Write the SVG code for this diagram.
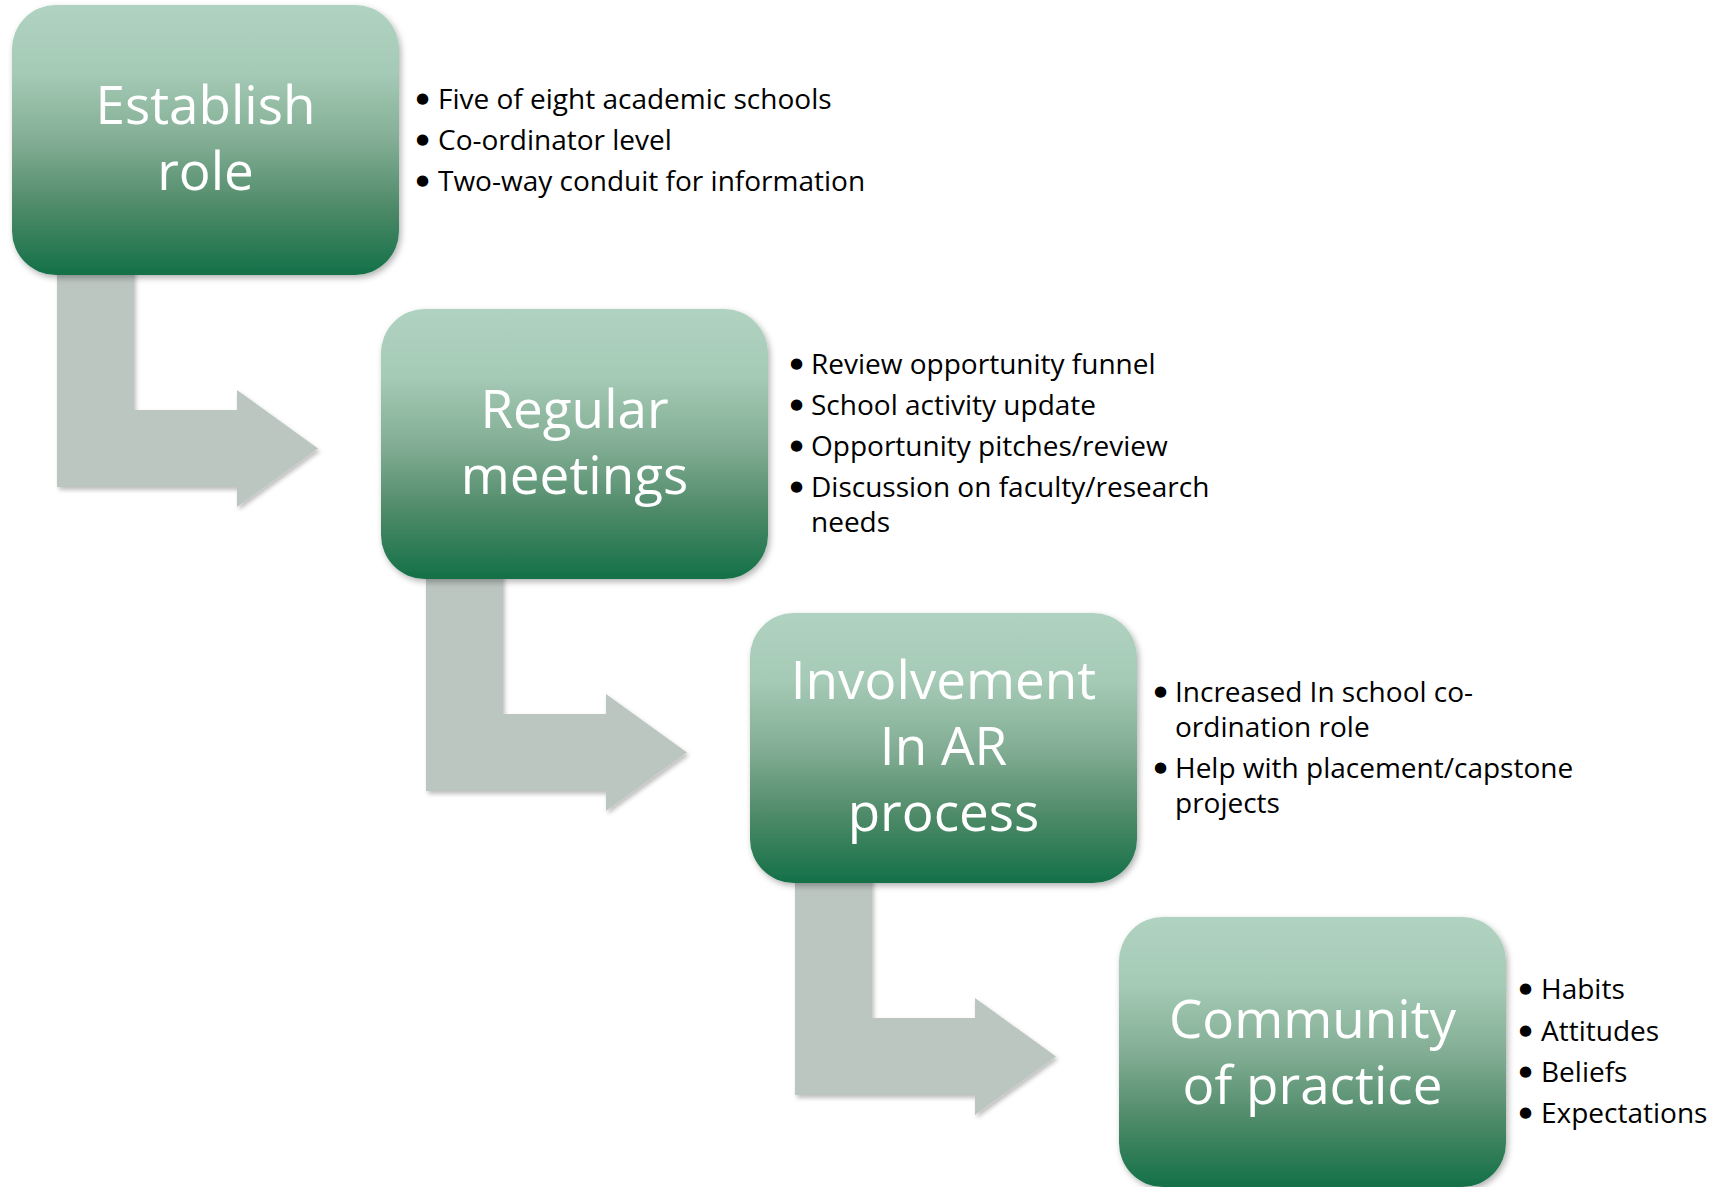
<svg xmlns="http://www.w3.org/2000/svg" width="1721" height="1187" viewBox="0 0 1721 1187">
<style>
.box{fill:url(#g);filter:url(#sh)}
.arr{fill:#BCC6C1;filter:url(#sh2)}
.lbl{font-family:"Open Sans","Noto Sans",sans-serif;font-size:53px;fill:#fff;text-anchor:middle}
.bul{font-family:"Open Sans","Noto Sans",sans-serif;font-size:28px;fill:#000}
.d{font-family:"DejaVu Sans",sans-serif;font-size:15px}
</style>
<defs>
<linearGradient id="g" x1="0" y1="0" x2="0" y2="1">
<stop offset="0" stop-color="#B0D3C1"/>
<stop offset="0.25" stop-color="#A5CAB5"/>
<stop offset="0.5" stop-color="#83AE95"/>
<stop offset="0.75" stop-color="#4E8A68"/>
<stop offset="1" stop-color="#137048"/>
</linearGradient>
<filter id="sh" x="-10%" y="-10%" width="125%" height="125%">
<feDropShadow dx="2" dy="3" stdDeviation="3" flood-color="#000" flood-opacity="0.3"/>
</filter>
<filter id="sh2" x="-10%" y="-10%" width="125%" height="125%">
<feDropShadow dx="2" dy="3" stdDeviation="2" flood-color="#000" flood-opacity="0.25"/>
</filter>
</defs>
<g id="connectors">
<path class="arr" d="M57,255 L134,255 L134,410 L237,410 L237,390 L318,448.5 L237,507 L237,487 L57,487 Z"/>
<path class="arr" d="M426,559 L503,559 L503,714 L606,714 L606,694 L687,752.5 L606,811 L606,791 L426,791 Z"/>
<path class="arr" d="M795,863 L872,863 L872,1018 L975,1018 L975,998 L1056,1056.5 L975,1115 L975,1095 L795,1095 Z"/>
</g>
<g id="node-establish-role">
<rect class="box" x="12" y="5" width="387" height="270" rx="44"/>
<text class="lbl" x="205.5" y="124">Establish</text>
<text class="lbl" x="205.5" y="190">role</text>
<text class="bul" x="416" y="109"><tspan class="d" dy="-6">●</tspan><tspan x="438" dy="6">Five of eight academic schools</tspan></text>
<text class="bul" x="416" y="150"><tspan class="d" dy="-6">●</tspan><tspan x="438" dy="6">Co-ordinator level</tspan></text>
<text class="bul" x="416" y="191"><tspan class="d" dy="-6">●</tspan><tspan x="438" dy="6">Two-way conduit for information</tspan></text>
</g>
<g id="node-regular-meetings">
<rect class="box" x="381" y="309" width="387" height="270" rx="44"/>
<text class="lbl" x="574.5" y="428">Regular</text>
<text class="lbl" x="574.5" y="494">meetings</text>
<text class="bul" x="790" y="374"><tspan class="d" dy="-6">●</tspan><tspan x="811" dy="6">Review opportunity funnel</tspan></text>
<text class="bul" x="790" y="415"><tspan class="d" dy="-6">●</tspan><tspan x="811" dy="6">School activity update</tspan></text>
<text class="bul" x="790" y="456"><tspan class="d" dy="-6">●</tspan><tspan x="811" dy="6">Opportunity pitches/review</tspan></text>
<text class="bul" x="790" y="497"><tspan class="d" dy="-6">●</tspan><tspan x="811" dy="6">Discussion on faculty/research</tspan><tspan x="811" dy="35">needs</tspan></text>
</g>
<g id="node-involvement">
<rect class="box" x="750" y="613" width="387" height="270" rx="44"/>
<text class="lbl" x="943.5" y="699">Involvement</text>
<text class="lbl" x="943.5" y="765">In AR</text>
<text class="lbl" x="943.5" y="831">process</text>
<text class="bul" x="1154" y="702"><tspan class="d" dy="-6">●</tspan><tspan x="1175" dy="6">Increased In school co-</tspan><tspan x="1175" dy="35">ordination role</tspan></text>
<text class="bul" x="1154" y="778"><tspan class="d" dy="-6">●</tspan><tspan x="1175" dy="6">Help with placement/capstone</tspan><tspan x="1175" dy="35">projects</tspan></text>
</g>
<g id="node-community">
<rect class="box" x="1119" y="917" width="387" height="270" rx="44"/>
<text class="lbl" x="1312.5" y="1038">Community</text>
<text class="lbl" x="1312.5" y="1104">of practice</text>
<text class="bul" x="1519" y="999"><tspan class="d" dy="-6">●</tspan><tspan x="1541" dy="6">Habits</tspan></text>
<text class="bul" x="1519" y="1041"><tspan class="d" dy="-6">●</tspan><tspan x="1541" dy="6">Attitudes</tspan></text>
<text class="bul" x="1519" y="1082"><tspan class="d" dy="-6">●</tspan><tspan x="1541" dy="6">Beliefs</tspan></text>
<text class="bul" x="1519" y="1123"><tspan class="d" dy="-6">●</tspan><tspan x="1541" dy="6">Expectations</tspan></text>
</g>
</svg>
